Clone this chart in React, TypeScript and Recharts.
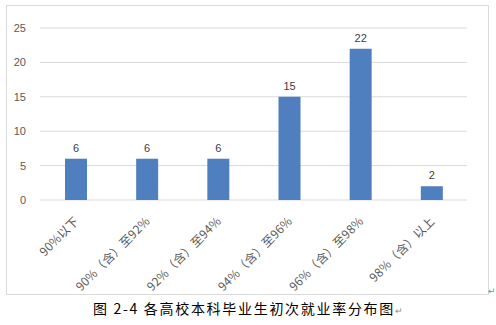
import { BarChart, Bar, XAxis, YAxis, CartesianGrid, LabelList } from "recharts";

const categories = [
  "90%以下",
  "90%（含）至92%",
  "92%（含）至94%",
  "94%（含）至96%",
  "96%（含）至98%",
  "98%（含）以上",
];
const counts = [6, 6, 6, 15, 22, 2];
const yTicks = [0, 5, 10, 15, 20, 25];

const data = categories.map((name, i) => ({ name, value: counts[i] }));

const AngledTick = (props: any) => {
  const { x, y, payload } = props;
  return (
    <g transform={`translate(${x + 4},${y + 22})`}>
      <text
        textAnchor="end"
        transform="rotate(-45)"
        fontSize={12}
        letterSpacing={0.2}
        fill="#595959"
        fontFamily="'Noto Sans CJK SC', sans-serif"
      >
        {payload.value}
      </text>
    </g>
  );
};

export default function App() {
  return (
    <div
      style={{
        position: "absolute",
        left: 0,
        top: 0,
        width: 496,
        height: 325,
        background: "#fff",
      }}
    >
      <div
        style={{
          position: "absolute",
          left: 6,
          top: 5,
          width: 481,
          height: 288,
          border: "1px solid #d9d9d9",
        }}
      >
        <BarChart
          width={481}
          height={288}
          data={data}
          margin={{ top: 22, right: 21, left: 0, bottom: 0 }}
          style={{ overflow: "visible" }}
        >
          <CartesianGrid vertical={false} stroke="#d9d9d9" />
          <XAxis
            dataKey="name"
            axisLine={false}
            tickLine={false}
            tickSize={0}
            tickMargin={0}
            interval={0}
            height={94}
            tick={<AngledTick />}
          />
          <YAxis
            domain={[0, 25]}
            ticks={yTicks}
            axisLine={false}
            tickLine={false}
            width={33}
            tickMargin={8}
            tick={{ fontSize: 11, fill: "#595959", fontFamily: "'Liberation Sans', sans-serif" }}
          />
          <Bar dataKey="value" fill="#4F7FBE" barSize={22} isAnimationActive={false}>
            <LabelList
              dataKey="value"
              position="top"
              offset={7}
              fontSize={11}
              fill="#404040"
              fontFamily="'Liberation Sans', sans-serif"
            />
          </Bar>
        </BarChart>
      </div>
      <span
        style={{
          position: "absolute",
          left: 488,
          top: 286,
          fontSize: 9,
          color: "#888",
          fontFamily: "'DejaVu Sans', sans-serif",
        }}
      >
        ↵
      </span>
      <div
        style={{
          position: "absolute",
          left: 0,
          top: 298,
          width: 496,
          textAlign: "center",
          fontSize: 14,
          letterSpacing: "1.7px",
          color: "#000",
          fontFamily: "'Noto Sans CJK SC', sans-serif",
          lineHeight: "20px",
        }}
      >
        图 2-4 各高校本科毕业生初次就业率分布图
        <span style={{ fontSize: 9, color: "#888", letterSpacing: 0 }}>↵</span>
      </div>
    </div>
  );
}
